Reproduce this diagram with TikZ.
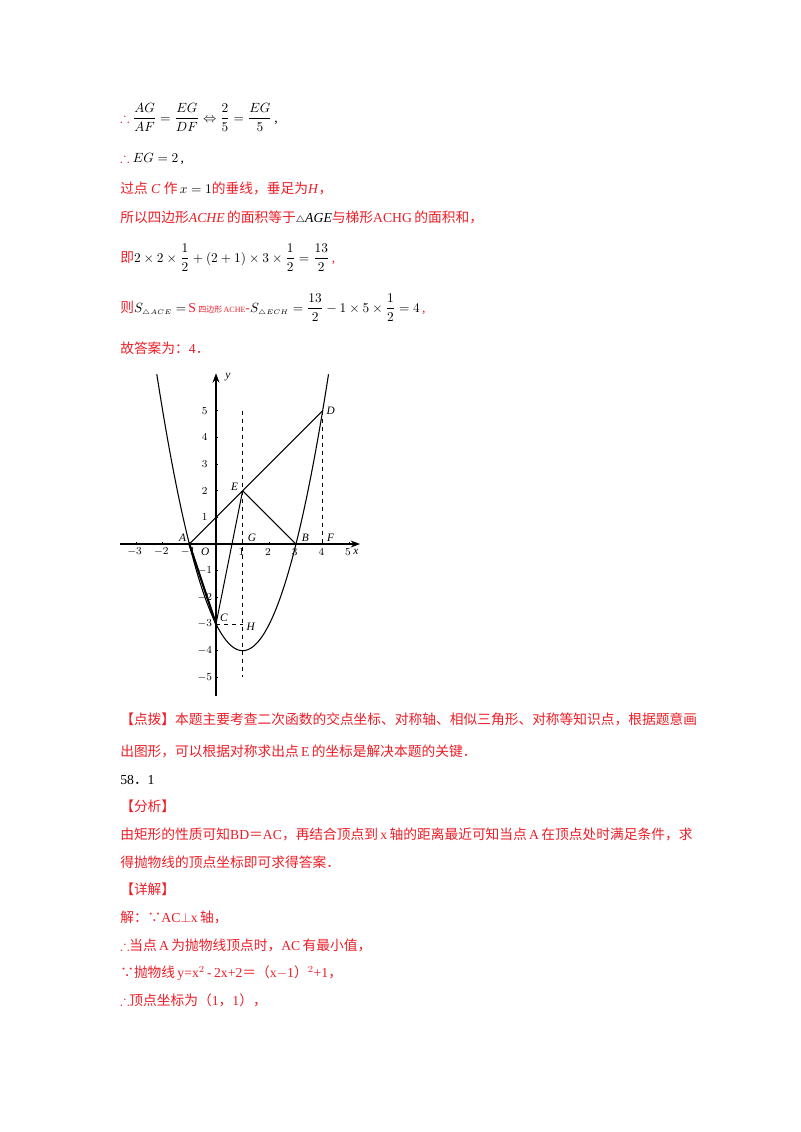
\documentclass[tikz,border=0pt]{standalone}
\usepackage{amsmath,amssymb}
\usepackage{fontspec}
\setmainfont{Liberation Serif}
\newfontfamily\cjk{Noto Sans CJK SC}
\newcommand{\zh}[1]{{\cjk #1}}
\definecolor{rd}{RGB}{235,30,40}
\usetikzlibrary{arrows.meta}
\tikzset{txt/.style={anchor=base west,inner sep=0pt,font=\fontsize{10.3}{12}\selectfont},
 ax/.style={line width=0.9pt,-{Stealth[length=7pt]}},
 dsh/.style={dashed,line width=0.7pt},
 tk/.style={font=\fontsize{8.5}{9}\selectfont,inner sep=1pt},
 lb/.style={font=\fontsize{8.5}{9}\selectfont\itshape,inner sep=1pt}}
\begin{document}
\begin{tikzpicture}[x=0.75pt,y=-0.75pt]
\useasboundingbox (0,0) rectangle (800,1132);
\node[txt] (l1) at (120,122) {\textcolor{rd}{$\therefore$} $\dfrac{AG}{AF}=\dfrac{EG}{DF}\Leftrightarrow\dfrac{2}{5}=\dfrac{EG}{5}$\,,};
\node[txt] (l2) at (120,162) {\textcolor{rd}{$\therefore$} $EG=2$\,,};
\node[txt,text=rd] (l3) at (120,193) {\zh{过点} \textit{C} \zh{作}\textcolor{black}{$\,x=1$}\zh{的垂线，垂足为}\textit{H}\zh{，}};
\node[txt,text=rd] (l4) at (120,222) {\zh{所以四边形}\textit{ACHE}\,\zh{的面积等于}\textcolor{black}{$\scriptstyle\triangle$\textit{AGE}}\zh{与梯形}ACHG\,\zh{的面积和，}};
\node[txt,text=rd] (l5) at (120,262) {\zh{即}\textcolor{black}{$2\times2\times\dfrac12+(2+1)\times3\times\dfrac12=\dfrac{13}{2}$}\,,};
\node[txt,text=rd] (l6) at (120,312) {\zh{则}\textcolor{black}{$S_{\scriptscriptstyle\triangle ACE}=$}\,S\,{\fontsize{6}{7}\selectfont\zh{四边形}\,ACHE}-\textcolor{black}{$S_{\scriptscriptstyle\triangle ECH}=\dfrac{13}{2}-1\times5\times\dfrac12=4$}\,,};
\node[txt,text=rd] (l7) at (120,353) {\zh{故答案为：}4\zh{．}};
\begin{scope}[shift={(216,544)},x=20.0pt,y=20.0pt]
\draw[ax] (-3.6,0) -- (5.4,0);
\draw[ax] (0,-5.7) -- (0,6.4);
\node[lb] (ylab) at (0.45,6.25) {y};
\node[lb] (xlab) at (5.25,-0.3) {x};
\foreach \n in {-3,-2,-1,1,2,3,4,5}{\draw (\n,0)--(\n,0.07); \node[tk] at (\n-0.05,-0.3) {$\n$};}
\foreach \n in {-5,-4,-3,-2,-1,1,2,3,4,5}{\draw (0,\n)--(0.07,\n); \node[tk] at (-0.42,\n) {$\n$};}
\draw[line width=0.8pt,domain=-2.22:4.22,samples=80] plot (\x,{\x*\x-2*\x-3});
\coordinate (A) at (-1,0); \coordinate (B) at (3,0); \coordinate (C) at (0,-3);
\coordinate (D) at (4,5); \coordinate (E) at (1,2); \coordinate (G) at (1,0);
\coordinate (F) at (4,0); \coordinate (H) at (1,-3);
\coordinate (T) at (1,5); \coordinate (Bm) at (1,-5);
\draw[line width=0.8pt] (A)--(D) (E)--(B) (E)--(C);
\draw[line width=1.6pt] (A)--(C);
\draw[dsh] (T)--(Bm) (D)--(F) (C)--(H);
\node[lb] at (-1.25,0.25) {A}; \node[lb] at (3.35,0.25) {B};
\node[lb] at (0.3,-2.75) {C}; \node[lb] at (4.3,5) {D};
\node[lb] at (0.7,2.15) {E}; \node[lb] at (4.3,0.25) {F};
\node[lb] at (1.35,0.25) {G}; \node[lb] at (1.3,-3.1) {H};
\node[lb] at (-0.4,-0.28) {O};
\end{scope}
\node[txt,text=rd] (p1) at (120,724) {\zh{【点拨】本题主要考查二次函数的交点坐标、对称轴、相似三角形、对称等知识点，根据题意画}};
\node[txt,text=rd] (p2) at (120,756) {\zh{出图形，可以根据对称求出点}\,E\,\zh{的坐标是解决本题的关键．}};
\node[txt] (n58) at (120,784) {58\zh{．}1};
\node[txt,text=rd] (fx) at (120,811) {\zh{【分析】}};
\node[txt,text=rd] (a1) at (120,839) {\zh{由矩形的性质可知}BD\zh{＝}AC\zh{，再结合顶点到}\,x\,\zh{轴的距离最近可知当点}\,A\,\zh{在顶点处时满足条件，求}};
\node[txt,text=rd] (a2) at (120,867) {\zh{得抛物线的顶点坐标即可求得答案．}};
\node[txt,text=rd] (xj) at (120,894) {\zh{【详解】}};
\node[txt,text=rd] (b1) at (120,922) {\zh{解：∵}AC$\perp$x\,\zh{轴，}};
\node[txt,text=rd] (b2) at (120,950) {$\therefore$\zh{当点}\,A\,\zh{为抛物线顶点时，}AC\,\zh{有最小值，}};
\node[txt,text=rd] (b3) at (120,977) {\zh{∵抛物线}\,y=x$^{2}$\,-\,2x+2\zh{＝（}x$-$1\zh{）}$^{2}$+1\zh{，}};
\node[txt,text=rd] (b4) at (120,1005) {$\therefore$\zh{顶点坐标为（}1\zh{，}1\zh{），}};
\end{tikzpicture}
\end{document}
